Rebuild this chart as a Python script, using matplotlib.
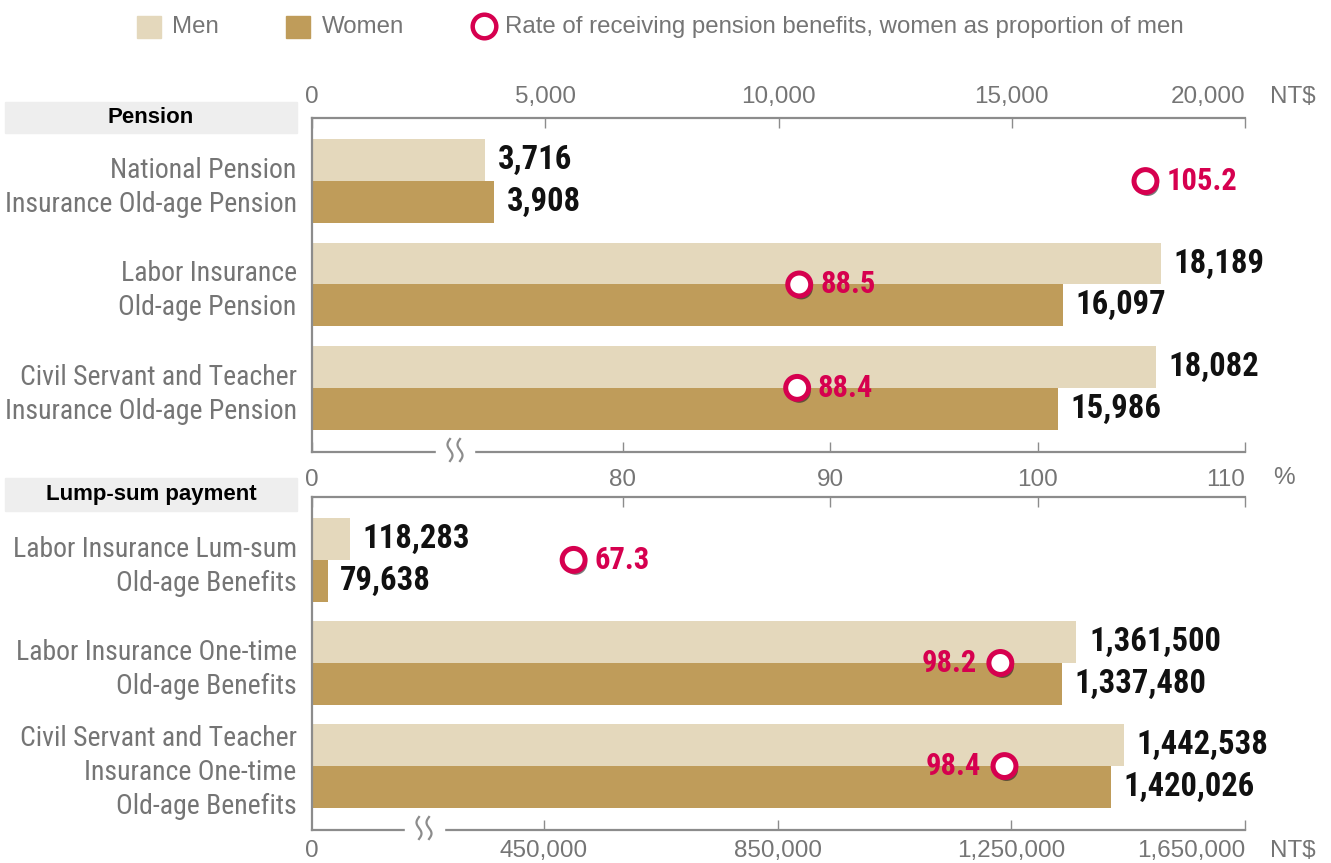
"""Average monthly pension / lump-sum benefits by sex, NT$."""

import numpy as np
import matplotlib
matplotlib.use("Agg")
import matplotlib.pyplot as plt
import matplotlib.patheffects as pe
from matplotlib import font_manager as fm
from matplotlib.patches import Rectangle
from matplotlib.lines import Line2D

# ---- data -------------------------------------------------------------
pension_labels = [
    "National Pension\nInsurance Old-age Pension",
    "Labor Insurance\nOld-age Pension",
    "Civil Servant and Teacher\nInsurance Old-age Pension",
]
pension_men = [3716, 18189, 18082]
pension_women = [3908, 16097, 15986]
pension_rate = [105.2, 88.5, 88.4]

lump_labels = [
    "Labor Insurance Lum-sum\nOld-age Benefits",
    "Labor Insurance One-time\nOld-age Benefits",
    "Civil Servant and Teacher\nInsurance One-time\nOld-age Benefits",
]
lump_men = [118283, 1361500, 1442538]
lump_women = [79638, 1337480, 1420026]
lump_rate = [67.3, 98.2, 98.4]

pension_ticks = [0, 5000, 10000, 15000, 20000]
lump_ticks = [450000, 850000, 1250000, 1650000]
rate_ticks = [80, 90, 100, 110]

# ---- style ------------------------------------------------------------
W, H = 1331, 863
MEN_C = "#E4D8BC"
WOMEN_C = "#BF9C5A"
RATE_C = "#D6004F"
LINE_C = "#8C8C8C"
TEXT_C = "#757575"


def pick(*families):
    names = {f.name for f in fm.fontManager.ttflist}
    for fam in families:
        if fam in names:
            return fam
    return "DejaVu Sans"


NARROW = pick("Liberation Sans Narrow", "DejaVu Sans Condensed",
              "Roboto Condensed", "Open Sans Condensed", "Liberation Sans")
SANS = pick("Liberation Sans", "Arial", "DejaVu Sans")
plt.rcParams["font.family"] = [SANS, "DejaVu Sans"]

# percent axis: 0-80 squeezed into a short segment, 80-110 linear
BREAK, SQUEEZE = 80.0, 15.0


def pct_fwd(v):
    v = np.asarray(v, dtype=float)
    return np.where(v < BREAK, v * SQUEEZE / BREAK, v - BREAK + SQUEEZE)


def pct_inv(u):
    u = np.asarray(u, dtype=float)
    return np.where(u < SQUEEZE, u * BREAK / SQUEEZE, u + BREAK - SQUEEZE)


def fx(px):
    return px / W


def fy(py):
    return 1 - py / H


fig = plt.figure(figsize=(W / 100, H / 100), dpi=100)
fig.patch.set_facecolor("white")


def last_label_right(axis):
    tick = axis.get_major_ticks()[-1]
    tick.label1.set_horizontalalignment("right")
    tick.label2.set_horizontalalignment("right")


def break_mark(ax, rect, center_px, gap_px):
    wpx, hpx = rect[2] * W, rect[3] * H
    xc = (center_px - rect[0] * W) / wpx
    ax.add_patch(Rectangle((xc - gap_px / 2 / wpx, -4 / hpx), gap_px / wpx, 8 / hpx,
                           transform=ax.transAxes, color="white", clip_on=False, zorder=5))
    t = np.linspace(-1, 1, 40)
    for dx in (-5, 5):
        xs = xc + (dx + 2.5 * np.sin(t * np.pi)) / wpx
        ys = (2 - 11 * t) / hpx
        ax.plot(xs, ys, color=LINE_C, lw=1.6, transform=ax.transAxes,
                clip_on=False, zorder=6)


def draw_panel(rect, labels, men, women, rate, xlim, ticks, ticklabels,
               nt_on_top, rate_labels_below, rate_left):
    ax = fig.add_axes(rect)
    axr = ax.twiny()  # percent axis for the rate markers
    y = np.arange(len(labels))
    h = 0.405
    ax.barh(y - h / 2, men, height=h, color=MEN_C, zorder=2)
    ax.barh(y + h / 2, women, height=h, color=WOMEN_C, zorder=2)
    ax.set_xlim(*xlim)
    ax.set_ylim(len(labels) - 1 + 0.62, -0.61)

    for yi, m, w in zip(y, men, women):
        for val, yy in ((m, yi - h / 2), (w, yi + h / 2)):
            ax.annotate(f"{val:,}", (val, yy), xytext=(9, 0), textcoords="offset points",
                        ha="left", va="center", fontsize=23.5, fontweight="bold",
                        family=NARROW, color="#111111", zorder=4)

    ax.set_yticks(y)
    ax.set_yticklabels(labels, family=NARROW, fontsize=20, color=TEXT_C,
                       linespacing=1.32)
    ax.tick_params(axis="y", length=0, pad=11)

    ax.set_xticks(ticks)
    ax.set_xticklabels(ticklabels)
    if nt_on_top:
        ax.xaxis.set_ticks_position("top")
        ax.xaxis.set_label_position("top")
    else:
        ax.xaxis.set_ticks_position("bottom")
    ax.tick_params(axis="x", direction="in", length=7, width=1, color=LINE_C,
                   labelcolor=TEXT_C, labelsize=17.5, pad=7,
                   top=nt_on_top, bottom=not nt_on_top,
                   labeltop=nt_on_top, labelbottom=not nt_on_top)
    last_label_right(ax.xaxis)

    for side in ("left", "top", "bottom"):
        ax.spines[side].set_color(LINE_C)
        ax.spines[side].set_linewidth(1.6)
    ax.spines["right"].set_visible(False)

    if nt_on_top:
        ax.annotate("NT$", (1, 1), xycoords="axes fraction", xytext=(18, 15),
                    textcoords="offset points", ha="left", va="center",
                    fontsize=17.5, color=TEXT_C)
    else:
        ax.annotate("NT$", (1, 0), xycoords="axes fraction", xytext=(18, -15),
                    textcoords="offset points", ha="left", va="center",
                    fontsize=17.5, color=TEXT_C)

    axr.set_xscale("function", functions=(pct_fwd, pct_inv))
    axr.set_xlim(0, 110)
    axr.set_ylim(ax.get_ylim())
    axr.patch.set_visible(False)
    for s in axr.spines.values():
        s.set_visible(False)
    axr.set_xticks([0] + rate_ticks)
    axr.set_xticklabels(["0"] + [str(t) for t in rate_ticks])
    axr.xaxis.set_ticks_position("bottom" if nt_on_top else "top")
    axr.tick_params(axis="x", direction="in", length=7, width=1, color=LINE_C,
                    labelcolor=TEXT_C, labelsize=17.5, pad=12,
                    top=not nt_on_top, bottom=nt_on_top,
                    labeltop=False, labelbottom=rate_labels_below)
    last_label_right(axr.xaxis)
    if rate_labels_below:
        axr.annotate("%", (1, 0), xycoords="axes fraction", xytext=(20, -19),
                     textcoords="offset points", ha="left", va="center",
                     fontsize=17.5, color=TEXT_C)

    axr.plot(rate, y, ls="none", marker="o", ms=16.5, mfc="white", mec=RATE_C,
             mew=3.6, zorder=5,
             path_effects=[pe.SimplePatchShadow(offset=(1.5, -2.5), shadow_rgbFace="#222222",
                                                alpha=0.6),
                           pe.Normal()])
    for r, yi, left in zip(rate, y, rate_left):
        axr.annotate(f"{r:.1f}", (r, yi), xytext=(-17 if left else 15, 0),
                     textcoords="offset points", ha="right" if left else "left",
                     va="center", fontsize=22, fontweight="bold", family=NARROW,
                     color=RATE_C, zorder=6)
    return ax


top_rect = [fx(312), fy(452), fx(1245) - fx(312), fy(118) - fy(452)]
bot_rect = [fx(312), fy(830), fx(1245) - fx(312), fy(497) - fy(830)]

ax_top = draw_panel(top_rect, pension_labels, pension_men, pension_women, pension_rate,
                    (0, 20000), pension_ticks, [f"{t:,}" for t in pension_ticks],
                    nt_on_top=True, rate_labels_below=True,
                    rate_left=[False, False, False])
lump_start = 53000  # axis is broken: left edge stands for 0
ax_bot = draw_panel(bot_rect, lump_labels, lump_men, lump_women, lump_rate,
                    (lump_start, 1650000), [lump_start] + lump_ticks,
                    ["0"] + [f"{t:,}" for t in lump_ticks],
                    nt_on_top=False, rate_labels_below=False,
                    rate_left=[False, True, True])
ax_bot.xaxis.get_major_ticks()[0].tick2line.set_visible(False)
ax_bot.xaxis.get_major_ticks()[0].tick1line.set_visible(False)

break_mark(ax_top, top_rect, 455, 38)
break_mark(ax_bot, bot_rect, 424, 39)

# section headers
for text, y0, y1 in (("Pension", 102, 133), ("Lump-sum payment", 478, 511)):
    fig.add_artist(Rectangle((fx(5), fy(y1)), fx(297) - fx(5), fy(y0) - fy(y1),
                             transform=fig.transFigure, color="#EEEEEE", zorder=0))
    fig.text(fx(151), fy((y0 + y1) / 2), text, ha="center", va="center",
             fontsize=16, fontweight="bold", color="black")

# legend
fig.add_artist(Rectangle((fx(137), fy(38)), fx(24), fy(16) - fy(38),
                         transform=fig.transFigure, color=MEN_C))
fig.text(fx(172), fy(27), "Men", ha="left", va="center", fontsize=17.3, color=TEXT_C)
fig.add_artist(Rectangle((fx(286), fy(38)), fx(24), fy(16) - fy(38),
                         transform=fig.transFigure, color=WOMEN_C))
fig.text(fx(322), fy(27), "Women", ha="left", va="center", fontsize=17.3, color=TEXT_C)
fig.add_artist(Line2D([fx(484)], [fy(26)], transform=fig.transFigure, ls="none",
                      marker="o", ms=17, mfc="white", mec=RATE_C, mew=3.2))
fig.text(fx(505), fy(27), "Rate of receiving pension benefits, women as proportion of men",
         ha="left", va="center", fontsize=17.3, color=TEXT_C)

fig.savefig("out.png", dpi=100, facecolor="white")
